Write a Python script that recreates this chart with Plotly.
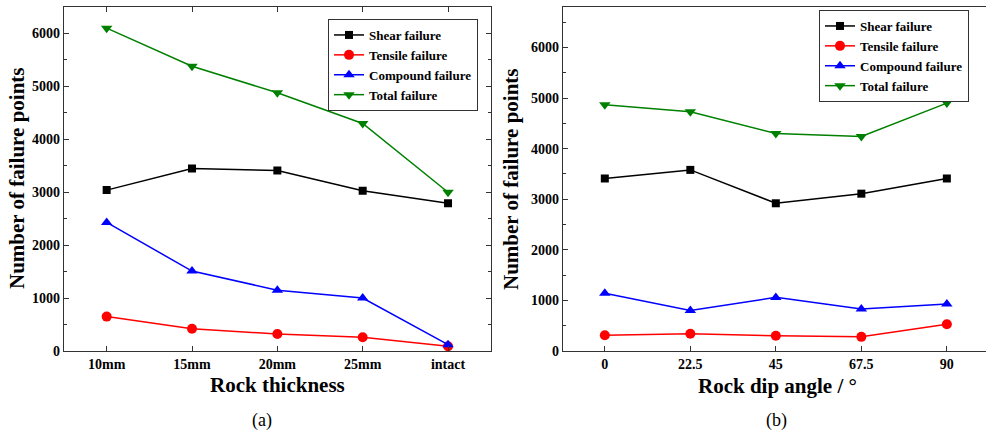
import plotly.graph_objects as go

# ---- data ----
thickness = ["10mm", "15mm", "20mm", "25mm", "intact"]
shear_a = [3040, 3450, 3410, 3030, 2790]
tensile_a = [650, 420, 320, 260, 90]
compound_a = [2430, 1510, 1150, 1000, 120]
total_a = [6100, 5380, 4880, 4300, 3000]

dip = [0, 22.5, 45, 67.5, 90]
dip_labels = ["0", "22.5", "45", "67.5", "90"]
shear_b = [3410, 3580, 2920, 3110, 3410]
tensile_b = [310, 340, 300, 280, 530]
compound_b = [1140, 800, 1060, 830, 930]
total_b = [4870, 4730, 4300, 4240, 4900]

names = ["Shear failure", "Tensile failure", "Compound failure", "Total failure"]
colors = ["#000000", "#ff0000", "#0000ff", "#008000"]
symbols = ["square", "circle", "triangle-up", "triangle-down"]
msizes = [8, 10, 10, 10]

FONT = "Liberation Serif"

fig = go.Figure()

for i, ys in enumerate([shear_a, tensile_a, compound_a, total_a]):
    fig.add_trace(go.Scatter(
        x=thickness, y=ys, name=names[i], mode="lines+markers",
        line=dict(color=colors[i], width=1.5),
        marker=dict(symbol=symbols[i], size=msizes[i], color=colors[i]),
        xaxis="x", yaxis="y", legend="legend"))

for i, ys in enumerate([shear_b, tensile_b, compound_b, total_b]):
    fig.add_trace(go.Scatter(
        x=dip, y=ys, name=names[i], mode="lines+markers",
        line=dict(color=colors[i], width=1.5),
        marker=dict(symbol=symbols[i], size=msizes[i], color=colors[i]),
        xaxis="x2", yaxis="y2", legend="legend2"))

H = 434.0
W = 986.0
ydom = [(H - 351) / H, (H - 7) / H]
tickfont = dict(family=FONT, size=14, color="#000", weight="bold")

axis_common = dict(showline=True, linecolor="#333", linewidth=1.2,
                   ticks="inside", ticklen=5, tickcolor="#333",
                   showgrid=False, zeroline=False, tickfont=tickfont,
                   automargin=False)

legfont = dict(family=FONT, size=13, color="#000", weight="bold")

fig.update_layout(
    width=986, height=434,
    margin=dict(l=0, r=0, t=0, b=0, autoexpand=False),
    paper_bgcolor="white", plot_bgcolor="white",
    showlegend=True,
    xaxis=dict(domain=[64 / W, 490.7 / W], anchor="y", type="category",
               range=[-0.5, 4.5], mirror="ticks", **axis_common),
    yaxis=dict(domain=ydom, anchor="x", range=[0, 6500], dtick=1000,
               mirror="ticks",
               minor=dict(ticks="inside", dtick=500, ticklen=3, tickcolor="#333"),
               **axis_common),
    xaxis2=dict(domain=[563 / W, 1.0], anchor="y2", range=[-11, 100.3],
                tickvals=dip, ticktext=dip_labels,
                mirror=True, **axis_common),
    yaxis2=dict(domain=ydom, anchor="x2", range=[0, 6800], dtick=1000,
                mirror=False,
                minor=dict(ticks="inside", dtick=500, ticklen=3, tickcolor="#333"),
                **axis_common),
    legend=dict(x=328 / W, y=(H - 19) / H, xanchor="left", yanchor="top",
                bgcolor="white", bordercolor="#333", borderwidth=1,
                font=legfont, tracegroupgap=0, itemwidth=30),
    legend2=dict(x=819 / W, y=(H - 10) / H, xanchor="left", yanchor="top",
                 bgcolor="white", bordercolor="#333", borderwidth=1,
                 font=legfont, tracegroupgap=0, itemwidth=30),
)

titlefont = dict(family=FONT, size=21, color="#000", weight="bold")
ann = [
    dict(text="Number of failure points", x=17 / W, y=(H - 179) / H, textangle=-90,
         font=titlefont),
    dict(text="Number of failure points", x=511 / W, y=(H - 179) / H, textangle=-90,
         font=titlefont),
    dict(text="Rock thickness", x=277 / W, y=(H - 385) / H, font=titlefont),
    dict(text="Rock dip angle / °", x=777 / W, y=(H - 386) / H, font=titlefont),
    dict(text="(a)", x=262 / W, y=(H - 420) / H,
         font=dict(family=FONT, size=18, color="#000")),
    dict(text="(b)", x=776 / W, y=(H - 420) / H,
         font=dict(family=FONT, size=18, color="#000")),
]
for a in ann:
    a.update(xref="paper", yref="paper", showarrow=False,
             xanchor="center", yanchor="middle")
fig.update_layout(annotations=ann)

fig.write_html("out.html")
